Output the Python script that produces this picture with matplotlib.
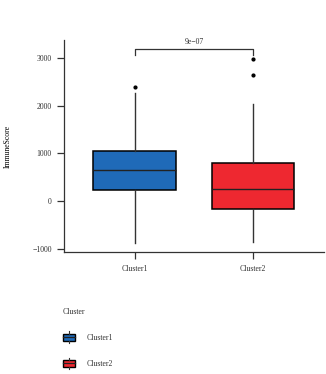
import matplotlib.pyplot as plt
import matplotlib.patches as mpatches
import matplotlib.lines as mlines
from matplotlib.legend_handler import HandlerPatch

# ---------- DATA ----------
clusters = ["Cluster1", "Cluster2"]
q1 = [230, -175]
med = [650, 245]
q3 = [1050, 805]
whislo = [-880, -860]
whishi = [2270, 2040]
fliers = [[2400], [2990, 2650]]
colors = ["#1F6AB8", "#EE2830"]
pval_text = "9e\u221207"
yticks = [-1000, 0, 1000, 2000, 3000]
# --------------------------

FS = 5.6
plt.rcParams["font.family"] = ["Liberation Serif", "DejaVu Serif"]

fig = plt.figure(figsize=(3.26, 3.74), dpi=100)
ax = fig.add_axes([0.196, 0.326, 0.798, 0.567])

stats = []
for i, name in enumerate(clusters):
    stats.append({"label": name, "q1": q1[i], "med": med[i], "q3": q3[i],
                  "whislo": whislo[i], "whishi": whishi[i], "fliers": fliers[i]})

pos = list(range(1, len(clusters) + 1))
bp = ax.bxp(stats, positions=pos, widths=0.7, patch_artist=True, showcaps=False,
            boxprops=dict(linewidth=1.1, edgecolor="black"),
            medianprops=dict(color="#222222", linewidth=1.0),
            whiskerprops=dict(color="#333333", linewidth=1.0),
            flierprops=dict(marker="o", markerfacecolor="black", markeredgecolor="black",
                            markersize=2.0))
for patch, c in zip(bp["boxes"], colors):
    patch.set_facecolor(c)

# significance bracket
ytop = 3190
ax.plot([1, 1, 2, 2], [3070, ytop, ytop, 3070], color="#333333", linewidth=0.9)
ax.text(1.5, ytop + 60, pval_text, ha="center", va="bottom", fontsize=FS, color="#333333")

ax.set_xlim(0.4, 2.6)
ax.set_ylim(-1071, 3382)
ax.set_xticks(pos)
ax.set_xticklabels(clusters)
ax.set_yticks(yticks)
ax.set_yticklabels([str(t).replace("-", "\u2212") for t in yticks])
ax.tick_params(labelsize=FS, length=4.8, width=0.9, colors="#333333")
ax.tick_params(axis="x", pad=4.5)
ax.tick_params(axis="y", pad=4)
for s in ["top", "right"]:
    ax.spines[s].set_visible(False)
for s in ["left", "bottom"]:
    ax.spines[s].set_linewidth(0.9)
    ax.spines[s].set_color("#333333")
ax.set_ylabel("ImmuneScore", fontsize=FS, labelpad=15)


class BoxKey(HandlerPatch):
    def create_artists(self, legend, orig_handle, xdescent, ydescent, width, height, fontsize, trans):
        x0 = -xdescent
        y0 = -ydescent
        w = width
        h = height
        rect = mpatches.Rectangle((x0, y0), w, h, facecolor=orig_handle.get_facecolor(),
                                  edgecolor="black", linewidth=1.0, transform=trans)
        cx = x0 + w / 2
        mid = mlines.Line2D([x0, x0 + w], [y0 + h / 2, y0 + h / 2], color="#222222",
                            linewidth=0.9, transform=trans)
        up = mlines.Line2D([cx, cx], [y0 + h, y0 + h * 1.3], color="#333333",
                           linewidth=0.8, transform=trans)
        dn = mlines.Line2D([cx, cx], [y0, y0 - h * 0.3], color="#333333",
                           linewidth=0.8, transform=trans)
        return [rect, mid, up, dn]


handles = [mpatches.Patch(facecolor=c, label=n) for c, n in zip(colors, clusters)]
leg = fig.legend(handles=handles, title="Cluster", loc="upper left",
                 bbox_to_anchor=(0.181, 0.188), frameon=False, fontsize=FS,
                 title_fontsize=FS, handler_map={mpatches.Patch: BoxKey()},
                 handlelength=1.55, handleheight=1.05, labelspacing=2.3,
                 handletextpad=1.55, borderpad=0)
leg._legend_box.align = "left"
leg._legend_box.sep = 13
for t in leg.get_texts():
    t.set_color("#333333")
leg.get_title().set_color("#333333")

fig.savefig("out.png", dpi=100)
